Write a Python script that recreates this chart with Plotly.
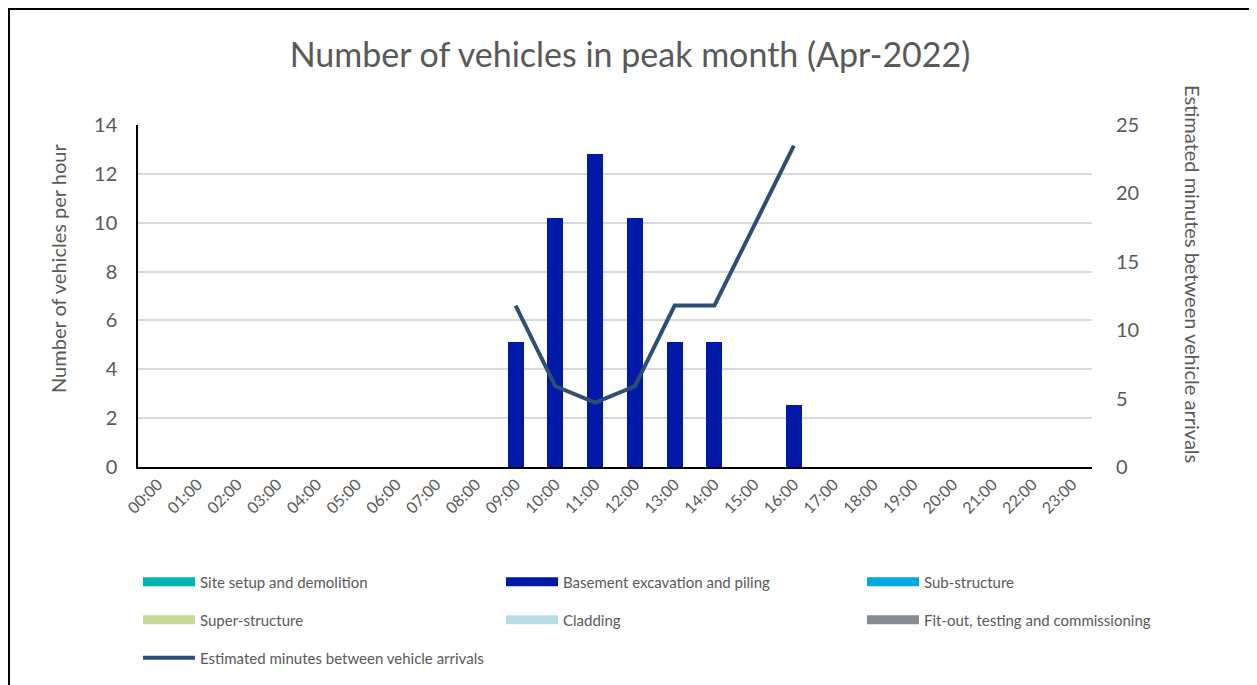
import plotly.graph_objects as go

hours = [f"{h:02d}:00" for h in range(24)]
site_setup = [0] * 24
basement = [0, 0, 0, 0, 0, 0, 0, 0, 0, 5.1, 10.2, 12.8, 10.2, 5.1, 5.1, 0, 2.55, 0, 0, 0, 0, 0, 0, 0]
sub_structure = [0] * 24
super_structure = [0] * 24
cladding = [0] * 24
fit_out = [0] * 24
minutes = [None] * 9 + [11.8, 5.9, 4.7, 5.9, 11.8, 11.8, None, 23.5] + [None] * 7

FONT = "Lato, 'Open Sans', sans-serif"
GREY = "#595959"

OFF = 8  # default page body margin
W, H = 1244, 677
L, T = 138 - OFF, 125 - OFF
R = W - (1092 - OFF)
B = H - (467 - OFF)
pw, ph = W - L - R, H - T - B

def px_x(xp):
    return (xp - OFF - L) / pw

def px_y(yp):
    return (H - B - (yp - OFF)) / ph

fig = go.Figure()
series = [
    ("Site setup and demolition", site_setup, "#00B5B0", (142, 582)),
    ("Basement excavation and piling", basement, "#0019A8", (505, 582)),
    ("Sub-structure", sub_structure, "#00A9E0", (866, 582)),
    ("Super-structure", super_structure, "#C5D99A", (142, 620)),
    ("Cladding", cladding, "#B7DDE8", (505, 620)),
    ("Fit-out, testing and commissioning", fit_out, "#858C93", (866, 620)),
]
for name, vals, col, pos in series:
    fig.add_trace(go.Bar(x=hours, y=vals, name=name, marker=dict(color=col, line=dict(width=0)),
                         yaxis="y", showlegend=False, legendgroup=name))

leg_common = dict(xref="container", yref="container", xanchor="left", yanchor="middle",
                  font=dict(size=15, color=GREY, family=FONT), itemwidth=52,
                  bgcolor="rgba(0,0,0,0)", borderwidth=0)
legends = {}
# legend keys drawn as wide rectangles, matching the reference's legend style
for i, (name, vals, col, pos) in enumerate(series):
    lg = "legend" if i == 0 else f"legend{i + 1}"
    fig.add_trace(go.Scatter(x=[hours[0]], y=[None], name=name, mode="lines", legend=lg,
                             legendgroup=name, line=dict(color=col, width=9), hoverinfo="skip"))
    legends[lg] = dict(**leg_common, x=(pos[0] - OFF - 4) / W, y=1 - (pos[1] - OFF) / H)

fig.add_trace(go.Scatter(x=hours, y=minutes, name="Estimated minutes between vehicle arrivals",
                         mode="lines", connectgaps=True, legend="legend7",
                         line=dict(color="#2E4F74", width=4), yaxis="y2"))
legends["legend7"] = dict(**leg_common, x=(142 - OFF - 4) / W, y=1 - (658 - OFF) / H)

fig.update_layout(
    width=W, height=H,
    margin=dict(l=L, r=R, t=T, b=B, autoexpand=False),
    paper_bgcolor="white", plot_bgcolor="white",
    font=dict(family=FONT, color=GREY),
    barmode="stack", bargap=0.6,
    title=dict(text="Number of vehicles in peak month (Apr-2022)", x=0.5, xanchor="center",
               y=1 - 47 / H, yanchor="middle", font=dict(size=34, color=GREY, family=FONT)),
    xaxis=dict(type="category", tickangle=-45, tickfont=dict(size=16, color=GREY), automargin=False,
               showline=True, linecolor="black", linewidth=1.5, showgrid=False, ticks=""),
    yaxis=dict(range=[0, 14], dtick=2, tickfont=dict(size=20, color=GREY), automargin=False,
               showline=True, linecolor="black", linewidth=1.5,
               gridcolor="#D9D9D9", gridwidth=1.5, zeroline=False, ticklabelstandoff=15),
    yaxis2=dict(range=[0, 25], dtick=5, overlaying="y", side="right", showgrid=False, automargin=False,
                tickfont=dict(size=20, color=GREY), showline=False, zeroline=False, ticklabelstandoff=23),
    showlegend=True,
    **legends,
)

fig.add_annotation(text="Number of vehicles per hour", textangle=-90,
                   xref="paper", yref="paper", x=px_x(58), y=px_y(269), xanchor="center", yanchor="middle",
                   showarrow=False, font=dict(size=20, color=GREY, family=FONT))
fig.add_annotation(text="Estimated minutes between vehicle arrivals", textangle=90,
                   xref="paper", yref="paper", x=px_x(1193), y=px_y(274), xanchor="center", yanchor="middle",
                   showarrow=False, font=dict(size=20, color=GREY, family=FONT))

fig.add_shape(type="rect", xref="paper", yref="paper",
              x0=px_x(9), x1=px_x(1251), y0=px_y(720), y1=px_y(9),
              line=dict(color="black", width=2), fillcolor="rgba(0,0,0,0)", layer="above")

fig.write_html("out.html")
